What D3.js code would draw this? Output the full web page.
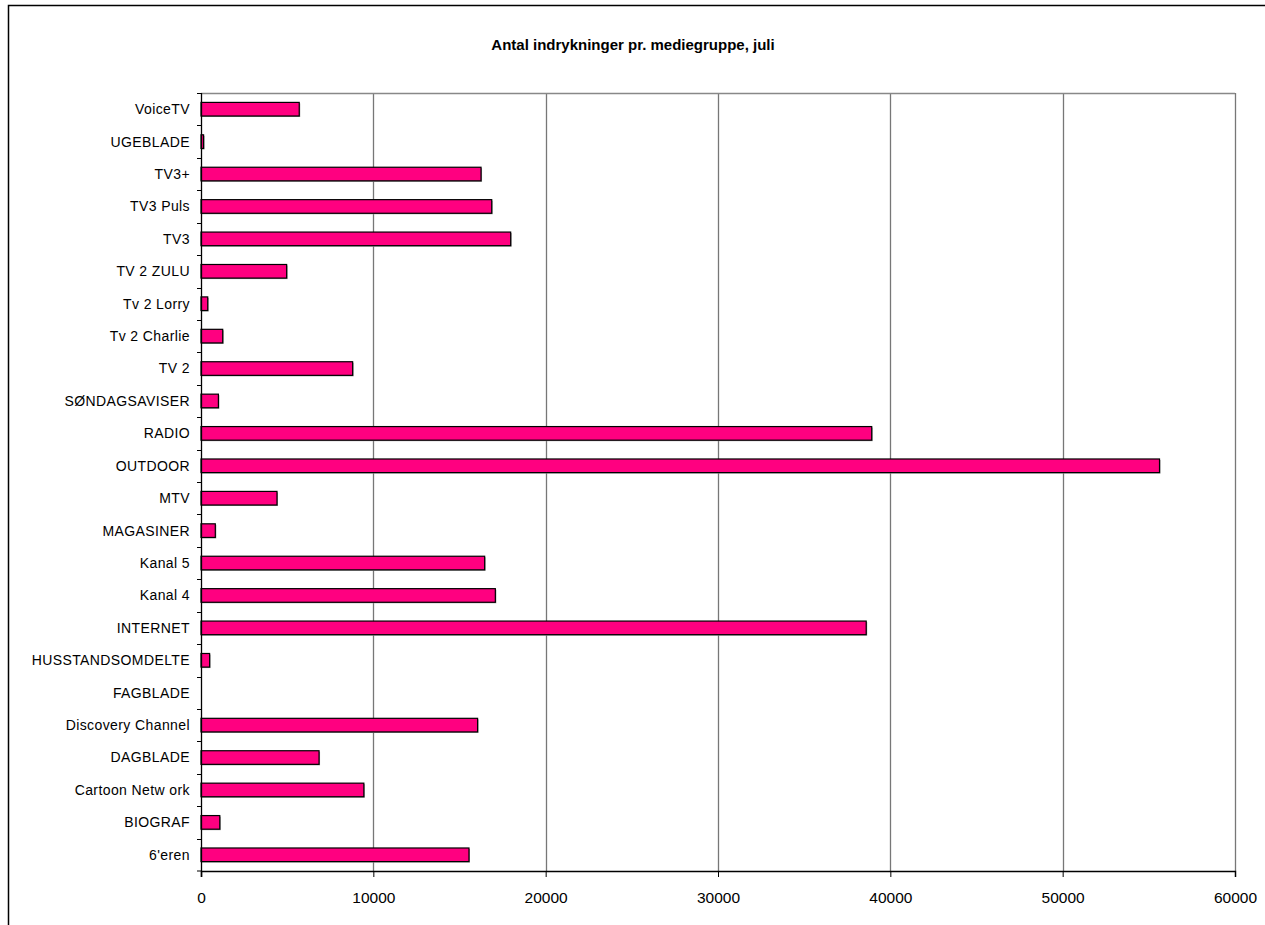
<!DOCTYPE html>
<html>
<head>
<meta charset="utf-8">
<script src="https://cdn.jsdelivr.net/npm/d3@7"></script>
<style>
  body { margin: 0; background: #fff; }
  svg { display: block; font-family: "Liberation Sans", Arial, sans-serif; }
</style>
</head>
<body>
<svg id="chart" width="1265" height="925"></svg>
<script>
const width = 1265
const height = 925
const margin = { top: 93, right: 30, bottom: 54, left: 201 }

// listed top to bottom, as drawn
const categories = [
  'VoiceTV', 'UGEBLADE', 'TV3+', 'TV3 Puls', 'TV3', 'TV 2 ZULU', 'Tv 2 Lorry',
  'Tv 2 Charlie', 'TV 2', 'SØNDAGSAVISER', 'RADIO', 'OUTDOOR', 'MTV', 'MAGASINER',
  'Kanal 5', 'Kanal 4', 'INTERNET', 'HUSSTANDSOMDELTE', 'FAGBLADE',
  'Discovery Channel', 'DAGBLADE', 'Cartoon Netw ork', 'BIOGRAF', "6'eren"
]
const values = [
  5700, 150, 16250, 16870, 17970, 4970, 390,
  1260, 8800, 1010, 38920, 55620, 4410, 830,
  16460, 17080, 38600, 500, 0,
  16050, 6850, 9450, 1090, 15550
]
const xTicks = [0, 10000, 20000, 30000, 40000, 50000, 60000]
const title = 'Antal indrykninger pr. mediegruppe, juli'

const data = categories.map((name, i) => ({ name, value: values[i] }))

const svg = d3.select('#chart')

// outer chart border
svg.append('rect')
  .attr('x', 8.5).attr('y', 5.5)
  .attr('width', width + 20).attr('height', height + 20)
  .attr('fill', 'none').attr('stroke', '#000').attr('stroke-width', 1.5)

svg.append('text')
  .attr('x', 633).attr('y', 50)
  .attr('text-anchor', 'middle')
  .attr('font-size', 15).attr('font-weight', 'bold')
  .text(title)

const x = d3.scaleLinear()
  .domain([0, 60000])
  .range([margin.left, width - margin.right])

const y = d3.scaleBand()
  .domain(categories)
  .range([margin.top, height - margin.bottom])

const plotTop = margin.top
const plotBottom = height - margin.bottom

// gridlines
svg.append('g')
  .selectAll('line')
  .data(xTicks.slice(1))
  .join('line')
  .attr('x1', d => Math.round(x(d)) + 0.5).attr('x2', d => Math.round(x(d)) + 0.5)
  .attr('y1', plotTop).attr('y2', plotBottom)
  .attr('stroke', '#777').attr('stroke-width', 1.3)

// plot area top border
svg.append('line')
  .attr('x1', x(0)).attr('x2', x(60000))
  .attr('y1', plotTop + 0.5).attr('y2', plotTop + 0.5)
  .attr('stroke', '#888').attr('stroke-width', 1.3)

// bars (with a faint drop shadow like the original)
const barH = y.bandwidth() * 0.42
const shown = data.filter(d => d.value > 0)
svg.append('g')
  .selectAll('rect')
  .data(shown)
  .join('rect')
  .attr('x', x(0) + 1)
  .attr('y', d => y(d.name) + (y.bandwidth() - barH) / 2 + 1)
  .attr('width', d => x(d.value) - x(0))
  .attr('height', barH)
  .attr('fill', '#999')
svg.append('g')
  .selectAll('rect')
  .data(shown)
  .join('rect')
  .attr('x', x(0))
  .attr('y', d => y(d.name) + (y.bandwidth() - barH) / 2)
  .attr('width', d => x(d.value) - x(0))
  .attr('height', barH)
  .attr('fill', '#ff0080')
  .attr('stroke', '#000')
  .attr('stroke-width', 1.2)

// left axis with ticks between categories
const yAxis = svg.append('g')
yAxis.append('line')
  .attr('x1', x(0) + 0.5).attr('x2', x(0) + 0.5)
  .attr('y1', plotTop).attr('y2', plotBottom + 6)
  .attr('stroke', '#000').attr('stroke-width', 1.3)
yAxis.selectAll('line.tick')
  .data(categories.concat(['__end']))
  .join('line')
  .attr('class', 'tick')
  .attr('x1', x(0) - 4).attr('x2', x(0))
  .attr('y1', d => d === '__end' ? plotBottom : Math.round(y(d)) + 0.5)
  .attr('y2', d => d === '__end' ? plotBottom : Math.round(y(d)) + 0.5)
  .attr('stroke', '#000')
yAxis.selectAll('text')
  .data(categories)
  .join('text')
  .attr('x', x(0) - 11)
  .attr('y', d => y(d) + y.bandwidth() / 2)
  .attr('dy', '0.35em')
  .attr('text-anchor', 'end')
  .attr('font-size', 14)
  .attr('letter-spacing', 0.4)
  .text(d => d)

// bottom axis
const xAxis = svg.append('g')
  .attr('transform', `translate(0,${plotBottom})`)
  .call(d3.axisBottom(x).tickValues(xTicks).tickFormat(d3.format('d')).tickSize(6).tickPadding(15))
xAxis.select('.domain').attr('stroke', '#000').attr('stroke-width', 1.5)
xAxis.selectAll('.tick line').attr('stroke', '#000')
xAxis.selectAll('.tick text')
  .attr('font-size', 15.5)
  .attr('font-family', '"Liberation Sans", Arial, sans-serif')
  .attr('fill', '#000')
</script>
</body>
</html>
